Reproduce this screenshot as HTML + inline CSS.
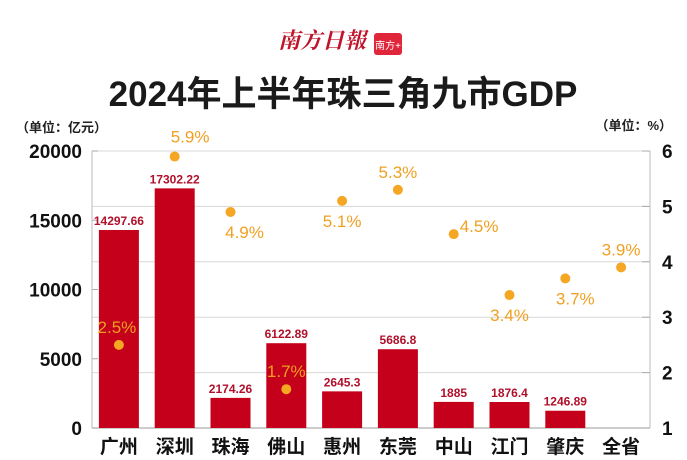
<!DOCTYPE html>
<html><head><meta charset="utf-8"><style>
body{margin:0;background:#fff;}
svg{display:block;font-family:"Liberation Sans","Noto Sans CJK SC",sans-serif;}
</style></head><body>
<svg id="c" width="687" height="460" viewBox="0 0 687 460">
<g>
<text x="322" y="48" text-anchor="middle" font-family="'Noto Serif CJK SC',serif" font-size="22" fill="#c0142a" font-style="italic" font-weight="bold">南方日報</text>
<rect x="374" y="33" width="28" height="22" rx="3" fill="#e0263a"/>
<text x="388" y="49" text-anchor="middle" font-size="10" fill="#fff">南方+</text>
</g>
<text x="343" y="106" text-anchor="middle" font-size="35" font-weight="bold" fill="#1a1a1a" font-family="'Liberation Sans','Noto Sans CJK SC',sans-serif">2024年上半年珠三角九市GDP</text>
<text x="16" y="132" font-size="13" font-weight="bold" fill="#222">（单位：亿元）</text>
<text x="672" y="130" text-anchor="end" font-size="13" font-weight="bold" fill="#222">（单位：%）</text>
<g id="g"></g>
</svg>
<script>
const categories=["广州","深圳","珠海","佛山","惠州","东莞","中山","江门","肇庆","全省"];
const gdpValues=[14297.66,17302.22,2174.26,6122.89,2645.3,5686.8,1885,1876.4,1246.89,null];
const gdpLabels=["14297.66","17302.22","2174.26","6122.89","2645.3","5686.8","1885","1876.4","1246.89",""];
const growthValues=[2.5,5.9,4.9,1.7,5.1,5.3,4.5,3.4,3.7,3.9];
const leftTicks=[0,5000,10000,15000,20000];
const rightTicks=[1,2,3,4,5,6];
// label placement (layout only): dx, dy relative to dot
const labelDx=[-2,16,14,0,0,0,20,0,10,0];
const labelDy=[-12,-14,26,-12,26,-12,-2,26,26,-12];

const NS="http://www.w3.org/2000/svg";
const g=document.getElementById('g');
const X0=92,X1=650,Y0=428,Y1=151;
const yL=v=>Y0-(v/20000)*(Y0-Y1);
const yR=v=>Y0-((v-1)/5)*(Y0-Y1);
const step=(X1-X0)/categories.length;
const xC=i=>X0+step*(i+0.5)-1;
function mk(t,a){const e=document.createElementNS(NS,t);for(const k in a)e.setAttribute(k,a[k]);g.appendChild(e);return e;}

rightTicks.forEach(t=>{
  if(t>1){const l=mk('line',{x1:X0,x2:X1,y1:yR(t),y2:yR(t),stroke:'#d8d8d8','stroke-width':1});
  
  }
  const tm=mk('line',{x1:X1-8,x2:X1,y1:yR(t),y2:yR(t),stroke:'#aaa'});
  
  
  const tx=mk('text',{x:X1+12,y:yR(t)+7,'font-size':19,'font-weight':'bold',fill:'#111'});tx.textContent=t;
  
  
});
leftTicks.forEach(t=>{
  const tm=mk('line',{x1:X0,x2:X0+6,y1:yL(t),y2:yL(t),stroke:'#aaa'});
  
  
  const tx=mk('text',{x:X0-10,y:yL(t)+7,'text-anchor':'end','font-size':19,'font-weight':'bold',fill:'#111'});tx.textContent=t;
  
  
});
[['left-axis',X0,X0,Y1,Y0],['right-axis',X1,X1,Y1,Y0]].forEach(a=>{
  const l=mk('line',{x1:a[1],x2:a[2],y1:a[3],y2:a[4],stroke:'#bbb'});
  
  
});
const xb=mk('line',{x1:X0,x2:X1,y1:Y0,y2:Y0,stroke:'#999'});



categories.forEach((c,i)=>{
  const x=xC(i);
  if(gdpValues[i]!=null){
    const b=mk('rect',{x:x-20,y:yL(gdpValues[i]),width:40,height:Y0-yL(gdpValues[i]),fill:'#c5001a'});
    
    
    const bl=mk('text',{x:x,y:yL(gdpValues[i])-5,'text-anchor':'middle','font-size':12,'font-weight':'bold',fill:'#b0102a'});bl.textContent=gdpLabels[i];
    
    
  }
  const cl=mk('text',{x:x,y:453,'text-anchor':'middle','font-size':19,'font-weight':'bold',fill:'#111'});cl.textContent=c;
  
  
});
categories.forEach((c,i)=>{
  const x=xC(i),y=yR(growthValues[i]);
  const d=mk('circle',{cx:x,cy:y,r:5,fill:'#f5a623'});
  
  
  const t=mk('text',{x:x+labelDx[i],y:y+labelDy[i],'text-anchor':labelDx[i]>=16?'start':'middle','font-size':17,fill:'#f0a020'});
  if(labelDx[i]>=16)t.setAttribute('x',x+6);
  if(i===1)t.setAttribute('x',x-4);
  t.textContent=growthValues[i].toFixed(1)+'%';
  
  
});
</script>
</body></html>
